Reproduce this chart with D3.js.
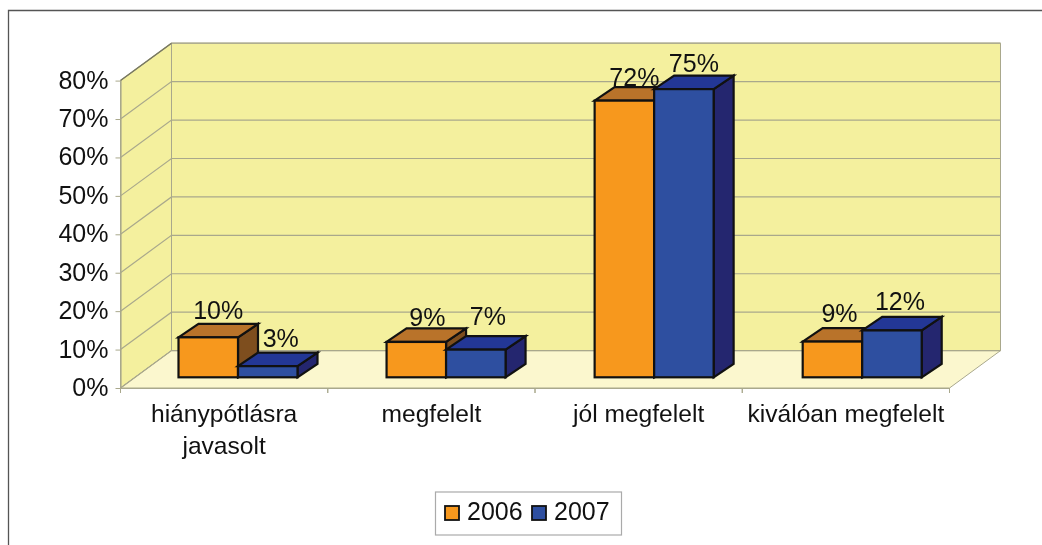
<!DOCTYPE html>
<html><head><meta charset="utf-8">
<script src="https://cdn.jsdelivr.net/npm/d3@7/dist/d3.min.js"></script>
<style>html,body{margin:0;padding:0;background:#fff}svg{display:block;font-family:"Liberation Sans",Arial,sans-serif;filter:blur(0.45px)}</style>
</head><body><svg id="c" width="1042" height="545"></svg>
<script>
const categories = [["hiánypótlásra","javasolt"],["megfelelt"],["jól megfelelt"],["kiválóan megfelelt"]];
const seriesNames = ["2006","2007"];
const values2006 = [10.4, 9.2, 72, 9.3];
const values2007 = [2.9, 7.2, 75, 12.2];
const yTicks = [0,10,20,30,40,50,60,70,80];

const seriesValues = [values2006, values2007];
const pal = [{front:"#F7981D",top:"#B9732A",side:"#7E4E1E"},{front:"#2E4FA0",top:"#233796",side:"#24266F"}];
const labelNudgeY = [[0,2,3,-2],[-1,-7,1,-2]];
const labelNudgeX = [[0,1,0,-3],[3,2,0,-2]];
const grid = "#A9A88C";
const depth = {x:51,y:-37.4}, barDepth = {x:20,y:-13.5};
const x0=120.5,x1=949.5,y0=388,y80=80.6,barBase=377.3;

const svg = d3.select("#c");
const y = d3.scaleLinear().domain([0,80]).range([y0,y80]);
const cat = d3.scaleBand().domain(d3.range(categories.length)).range([x0,x1]);
const group = d3.scalePoint().domain(d3.range(categories.length)).range([178.5,802.7]);
const ser = d3.scaleBand().domain(d3.range(seriesNames.length)).range([0,119]);
const pts = a => a.map(p=>p.join(",")).join(" ");

// outer frame
svg.append("path").attr("d","M8.5,545V10.5H1042").attr("fill","none").attr("stroke","#555").attr("stroke-width",1.3);

// walls and floor
svg.append("polygon").attr("points",pts([[x0,y0],[x0,y80],[x0+depth.x,y80+depth.y],[x0+depth.x,y0+depth.y]])).attr("fill","#F4F09E").attr("stroke",grid);
svg.append("polygon").attr("points",pts([[x0+depth.x,y0+depth.y],[x0+depth.x,y80+depth.y],[x1+depth.x,y80+depth.y],[x1+depth.x,y0+depth.y]])).attr("fill","#F4F09E").attr("stroke",grid);
svg.append("polygon").attr("points",pts([[x0,y0],[x1,y0],[x1+depth.x,y0+depth.y],[x0+depth.x,y0+depth.y]])).attr("fill","#FBF7CE").attr("stroke",grid);
const gl = svg.append("g").attr("fill","none").attr("stroke",grid).attr("stroke-width",1.2);
yTicks.forEach(t=>{
  gl.append("polyline").attr("points",pts([[x0,y(t)],[x0+depth.x,y(t)+depth.y],[x1+depth.x,y(t)+depth.y]]));
});
svg.append("line").attr("x1",x0).attr("x2",x0+depth.x).attr("y1",y80).attr("y2",y80+depth.y).attr("stroke","#77775f").attr("stroke-width",1.2);

// axes
const ya = svg.append("g").attr("transform",`translate(${x0},0)`)
  .call(d3.axisLeft(y).tickValues(yTicks).tickFormat(d=>d+"%").tickSize(5).tickSizeOuter(0).tickPadding(7));
const xa = svg.append("g").attr("transform",`translate(0,${y0})`)
  .call(d3.axisBottom(cat).tickSize(0).tickFormat(""));
xa.selectAll(".tick").remove();
cat.domain().forEach(i=>{
  [cat(i), cat(i)+cat.step()].forEach(px=>xa.append("line").attr("x1",px).attr("x2",px).attr("y1",0).attr("y2",5).attr("stroke",grid));
  const t = xa.append("text").attr("text-anchor","middle").attr("fill","#111").style("font-size","24.6px").attr("y",33.5);
  categories[i].forEach((s,k)=>t.append("tspan").attr("x",cat(i)+cat.step()/2).attr("dy",k?32.5:0).text(s));
});
svg.selectAll(".domain").attr("stroke",grid).attr("stroke-width",1.2);
ya.selectAll(".tick line").attr("stroke",grid);
ya.selectAll("text").attr("fill","#111").style("font-size","25px").attr("font-family","inherit").attr("dy","0.3em");

// bars
const bars = svg.append("g").attr("stroke","#111").attr("stroke-width",2.2).attr("stroke-linejoin","miter");
const labels = [];
cat.domain().forEach(i=>{
  seriesNames.forEach((_,s)=>{
    const v = seriesValues[s][i];
    const l = group(i)+ser(s), r = l+ser.bandwidth();
    const top = barBase-(y0-y(v));
    const c = pal[s], g = bars.append("g");
    g.append("polygon").attr("fill",c.side).attr("points",pts([[r,barBase],[r+barDepth.x,barBase+barDepth.y],[r+barDepth.x,top+barDepth.y],[r,top]]));
    g.append("polygon").attr("fill",c.top).attr("points",pts([[l,top],[l+barDepth.x,top+barDepth.y],[r+barDepth.x,top+barDepth.y],[r,top]]));
    g.append("rect").attr("fill",c.front).attr("x",l).attr("y",top).attr("width",r-l).attr("height",barBase-top);
    labels.push({x:(l+r)/2+10+labelNudgeX[s][i],y:top-18+labelNudgeY[s][i],t:Math.round(v)+"%"});
  });
});
svg.append("g").selectAll("text").data(labels).join("text")
  .attr("x",d=>d.x).attr("y",d=>d.y).attr("text-anchor","middle").attr("fill","#111").style("font-size","25px").text(d=>d.t);

// legend
const lg = svg.append("g");
lg.append("rect").attr("x",435.5).attr("y",492).attr("width",186).attr("height",43).attr("fill","#fff").attr("stroke","#aaa").attr("stroke-width",1.2);
const lx = d3.scaleOrdinal().domain(seriesNames).range([445,532]);
seriesNames.forEach((n,s)=>{
  lg.append("rect").attr("x",lx(n)).attr("y",506).attr("width",14).attr("height",14).attr("fill",pal[s].front).attr("stroke","#111").attr("stroke-width",1.8);
  lg.append("text").attr("x",lx(n)+22).attr("y",519.5).attr("fill","#111").style("font-size","25px").text(n);
});
</script></body></html>
